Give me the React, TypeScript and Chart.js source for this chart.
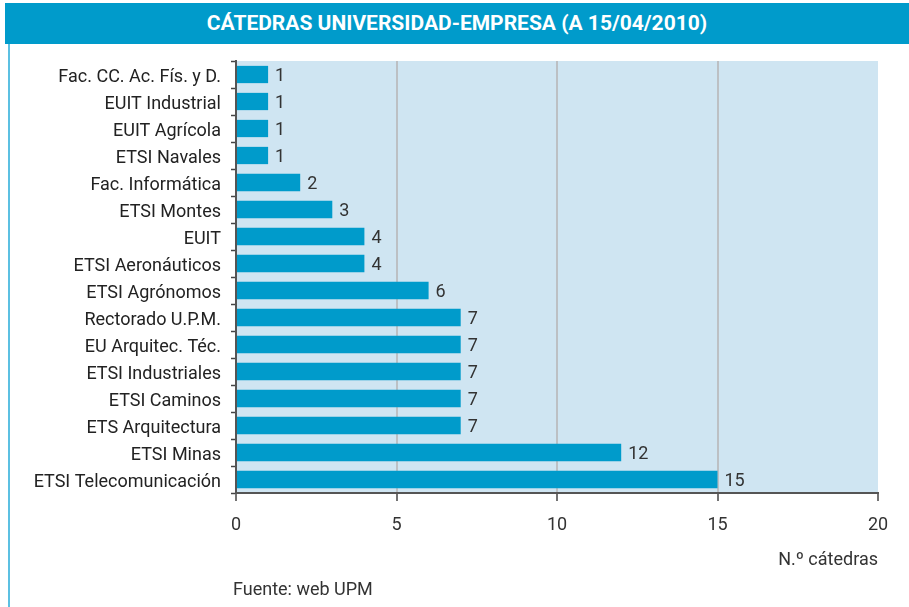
import React, { useEffect, useRef } from "react";
import { Chart, registerables } from "chart.js";

Chart.register(...registerables);

const TITLE = "CÁTEDRAS UNIVERSIDAD-EMPRESA (A 15/04/2010)";
const categories = [
  "Fac. CC. Ac. Fís. y D.",
  "EUIT Industrial",
  "EUIT Agrícola",
  "ETSI Navales",
  "Fac. Informática",
  "ETSI Montes",
  "EUIT",
  "ETSI Aeronáuticos",
  "ETSI Agrónomos",
  "Rectorado U.P.M.",
  "EU Arquitec. Téc.",
  "ETSI Industriales",
  "ETSI Caminos",
  "ETS Arquitectura",
  "ETSI Minas",
  "ETSI Telecomunicación",
];
const values = [1, 1, 1, 1, 2, 3, 4, 4, 6, 7, 7, 7, 7, 7, 12, 15];
const xTicks = [0, 5, 10, 15, 20];
const AXIS_TITLE = "N.º cátedras";
const SOURCE = "Fuente: web UPM";

const FONT = "Roboto, 'DejaVu Sans', sans-serif";

export default function App() {
  const ref = useRef<HTMLCanvasElement | null>(null);

  useEffect(() => {
    if (!ref.current) return;
    const bgPlugin = {
      id: "plotBg",
      beforeDraw(chart: any) {
        const { ctx, chartArea } = chart;
        ctx.save();
        ctx.fillStyle = "#cfe5f2";
        ctx.fillRect(chartArea.left, chartArea.top, chartArea.right - chartArea.left, chartArea.bottom - chartArea.top);
        ctx.restore();
      },
    };
    const labelPlugin = {
      id: "valLabels",
      afterDatasetsDraw(chart: any) {
        const { ctx } = chart;
        const meta = chart.getDatasetMeta(0);
        ctx.save();
        ctx.font = `18px ${FONT}`;
        ctx.fillStyle = "#333";
        ctx.textBaseline = "middle";
        ctx.textAlign = "left";
        meta.data.forEach((el: any, i: number) => {
          ctx.fillText(String(values[i]), el.x + 7, el.y + 2);
        });
        ctx.restore();
      },
    };
    const chart = new Chart(ref.current, {
      type: "bar",
      data: {
        labels: categories,
        datasets: [
          {
            data: values,
            backgroundColor: "#009bcb",
            borderWidth: 0,
            categoryPercentage: 1,
            barPercentage: 0.64,
          },
        ],
      },
      options: {
        indexAxis: "y",
        animation: false,
        responsive: true,
        maintainAspectRatio: false,
        layout: { padding: { top: 61, right: 31, left: 0, bottom: 0 } },
        plugins: { legend: { display: false }, tooltip: { enabled: false } },
        scales: {
          x: {
            min: 0,
            max: 20,
            afterFit(scale: any) {
              scale.height = 114;
            },
            afterBuildTicks(scale: any) {
              scale.ticks = xTicks.map((v) => ({ value: v }));
            },
            border: { display: true, color: "#555", width: 2 },
            grid: {
              color: (c: any) => (c.tick && (c.tick.value === 0 || c.tick.value === 20) ? "rgba(0,0,0,0)" : "#bcc0c4"),
              lineWidth: 2,
              tickColor: "#444",
              tickLength: 8,
              tickWidth: 1.5,
            },
            ticks: {
              font: { family: FONT, size: 18 },
              color: "#333",
              padding: 14,
            },
          },
          y: {
            afterFit(scale: any) {
              scale.width = 236;
            },
            border: { display: true, color: "#555", width: 2 },
            grid: {
              drawOnChartArea: false,
              tickColor: "#444",
              tickLength: 5,
              tickWidth: 1.5,
            },
            ticks: {
              font: { family: FONT, size: 18 },
              color: "#222",
              padding: 10,
              labelOffset: 3,
            },
          },
        },
      },
      plugins: [bgPlugin, labelPlugin],
    });
    return () => chart.destroy();
  }, []);

  return (
    <div style={{ position: "absolute", left: 0, top: 0, width: 909, height: 607, background: "#fff", overflow: "hidden" }}>
      <div
        style={{
          position: "absolute",
          left: 5,
          top: 3,
          width: 904,
          height: 41,
          background: "#009bcb",
          color: "#fff",
          fontFamily: FONT,
          fontWeight: 700,
          fontSize: 21,
          lineHeight: "41px",
          textAlign: "center",
        }}
      >
        {TITLE}
      </div>
      <div style={{ position: "absolute", left: 8, top: 44, width: 2, height: 563, background: "#5cc0e2" }} />
      <div style={{ position: "absolute", left: 0, top: 0, width: 909, height: 607 }}>
        <canvas ref={ref} />
      </div>
      <div
        style={{
          position: "absolute",
          right: 31,
          top: 548,
          fontFamily: FONT,
          fontSize: 18,
          color: "#333",
          lineHeight: "22px",
        }}
      >
        {AXIS_TITLE}
      </div>
      <div
        style={{
          position: "absolute",
          left: 233,
          top: 578,
          fontFamily: FONT,
          fontSize: 18,
          color: "#333",
          lineHeight: "22px",
        }}
      >
        {SOURCE}
      </div>
    </div>
  );
}
